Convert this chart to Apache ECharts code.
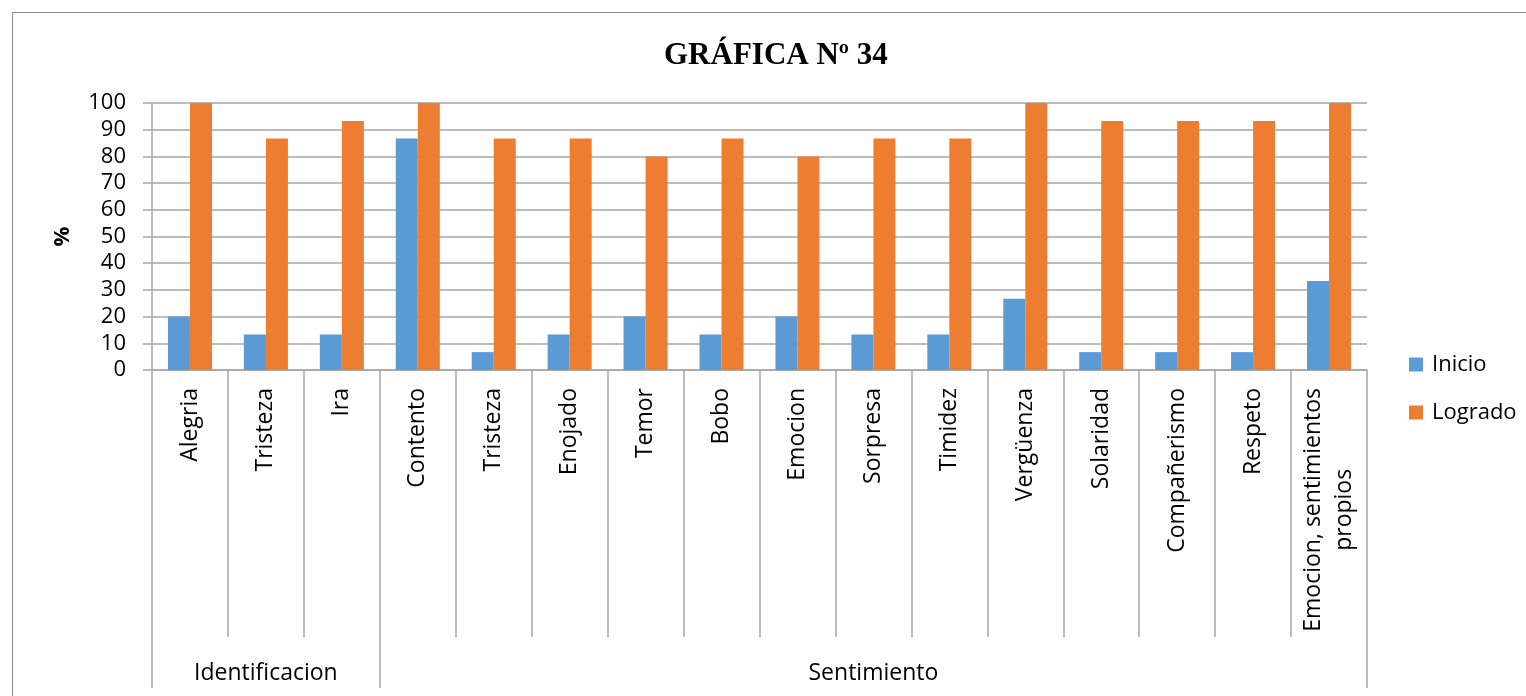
<!DOCTYPE html>
<html>
<head>
<meta charset="utf-8">
<title>GRÁFICA Nº 34</title>
<script src="https://cdn.jsdelivr.net/npm/echarts@6/dist/echarts.min.js"></script>
<style>
  html, body { margin: 0; padding: 0; background: #fff; overflow: hidden; }
  #chart { position: absolute; left: 0; top: 0; width: 1526px; height: 696px; }
  #frame { position: absolute; left: 12px; top: 12px; width: 1600px; height: 800px;
           border: 1.5px solid #8c8c8c; pointer-events: none; box-sizing: border-box; }
</style>
</head>
<body>
<div id="chart"></div>
<div id="frame"></div>
<script>
// Categories (first level) and their groups (second level)
const categories = [
  'Alegria', 'Tristeza', 'Ira', 'Contento', 'Tristeza', 'Enojado', 'Temor', 'Bobo',
  'Emocion', 'Sorpresa', 'Timidez', 'Vergüenza', 'Solaridad', 'Compañerismo', 'Respeto',
  'Emocion, sentimientos\npropios'
];
const groupNames = ['Identificacion', 'Sentimiento'];
const groupSizes = [3, 13];

// Percentages per series
const inicio  = [20, 13.3, 13.3, 86.7, 6.7, 13.3, 20, 13.3, 20, 13.3, 13.3, 26.7, 6.7, 6.7, 6.7, 33.3];
const logrado = [100, 86.7, 93.3, 100, 86.7, 86.7, 80, 86.7, 80, 86.7, 86.7, 100, 93.3, 93.3, 93.3, 100];

const seriesNames = ['Inicio', 'Logrado'];
const yTicks = { min: 0, max: 100, interval: 10 };

// Group boundaries and centre indices on the category axis
const groupStarts = [];
const groupCenters = {};
let acc = 0;
groupSizes.forEach((n, g) => {
  groupStarts.push(acc);
  groupCenters[acc + Math.floor(n / 2)] = groupNames[g];
  acc += n;
});

const lineColor = '#a6a6a6';
const font = '"Open Sans", "Noto Sans", sans-serif';

const chart = echarts.init(document.getElementById('chart'), null, { renderer: 'canvas' });
chart.setOption({
  animation: false,
  textStyle: { fontFamily: font, color: '#000' },
  title: {
    text: 'GRÁFICA Nº 34',
    left: 664,
    top: 40,
    padding: 0,
    textStyle: { fontFamily: '"Liberation Serif", "Times New Roman", serif', fontWeight: 'bold', fontSize: 31, color: '#000' }
  },
  legend: {
    orient: 'vertical',
    left: 1409,
    top: 353,
    padding: 0,
    itemWidth: 14,
    itemHeight: 14,
    itemGap: 25,
    icon: 'rect',
    textStyle: { fontFamily: font, fontSize: 22, color: '#000', padding: [0, 0, 0, 4], lineHeight: 23 },
    data: seriesNames
  },
  grid: { left: 152, right: 159, top: 103, bottom: 326, containLabel: false },
  xAxis: [
    {
      type: 'category',
      data: categories,
      axisLine: { show: true, lineStyle: { color: lineColor, width: 1.5 } },
      axisTick: { show: true, interval: 0, length: 267, lineStyle: { color: lineColor, width: 1.5 } },
      axisLabel: {
        interval: 0,
        rotate: 90,
        margin: 18,
        formatter: v => v.split('\n').map(l => '{c|' + l + '}').join('\n'),
        rich: { c: { fontFamily: font, fontSize: 23, color: '#000', align: 'center', lineHeight: 31 } }
      }
    },
    {
      type: 'category',
      data: categories,
      position: 'bottom',
      axisLine: { show: false },
      axisTick: {
        show: true,
        interval: i => groupStarts.indexOf(i) >= 0,
        length: 318,
        lineStyle: { color: lineColor, width: 1.5 }
      },
      axisLabel: {
        interval: i => groupCenters[i] !== undefined,
        formatter: (v, i) => groupCenters[i] || '',
        margin: 292,
        fontFamily: font,
        fontSize: 23,
        color: '#000'
      }
    }
  ],
  yAxis: {
    type: 'value',
    min: yTicks.min,
    max: yTicks.max,
    interval: yTicks.interval,
    name: '%',
    nameLocation: 'middle',
    nameRotate: 90,
    nameGap: 78,
    nameTextStyle: { fontFamily: font, fontSize: 22, fontWeight: 'bold', color: '#000' },
    axisLine: { show: true, lineStyle: { color: lineColor, width: 1.5 } },
    axisTick: { show: true, length: 9, lineStyle: { color: lineColor, width: 1.5 } },
    axisLabel: { fontFamily: font, fontSize: 22, color: '#000', margin: 26 },
    splitLine: { show: true, lineStyle: { color: lineColor, width: 1.5 } }
  },
  series: [
    { name: seriesNames[0], type: 'bar', data: inicio, itemStyle: { color: '#5b9bd5' },
      barGap: '0%', barCategoryGap: '42%' },
    { name: seriesNames[1], type: 'bar', data: logrado, itemStyle: { color: '#ed7d31' },
      barGap: '0%', barCategoryGap: '42%' }
  ]
});
</script>
</body>
</html>
